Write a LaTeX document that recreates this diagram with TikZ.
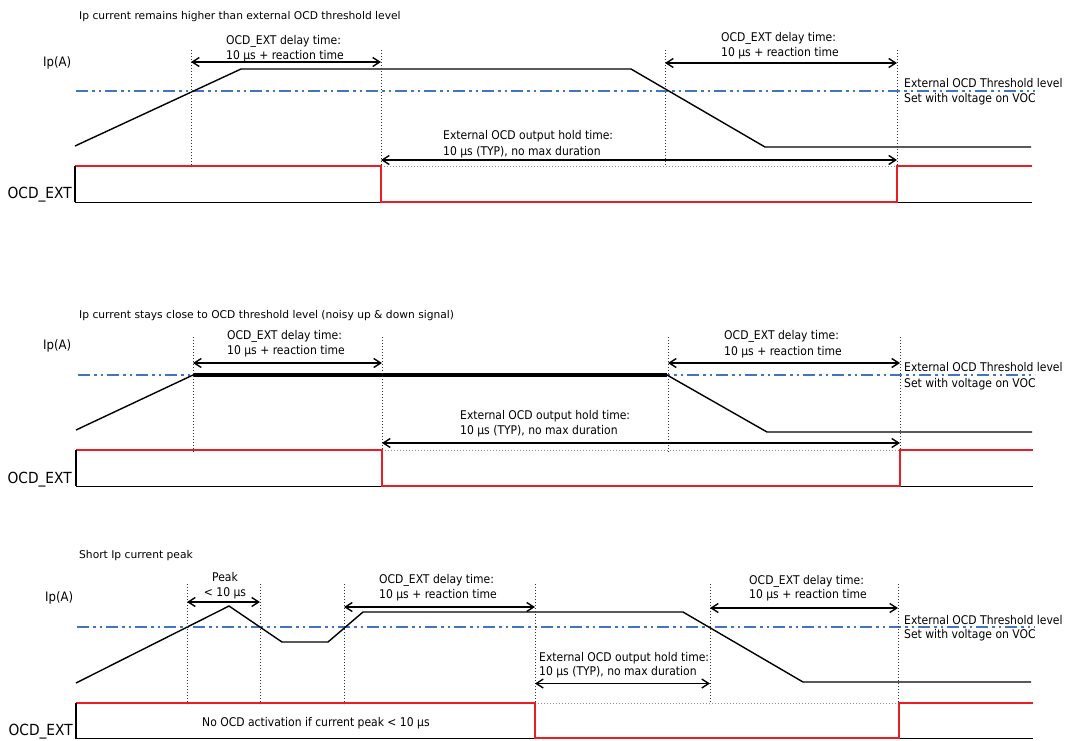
\documentclass[tikz,border=0pt]{standalone}
\usepackage{fontspec}
\setmainfont{DejaVu Sans}[FakeStretch=0.9]
\newfontfamily\titlefont{DejaVu Sans}
\usetikzlibrary{arrows.meta}
\definecolor{sigred}{RGB}{237,28,36}
\definecolor{thrblue}{RGB}{68,114,196}
\definecolor{guidegray}{RGB}{50,50,50}
\definecolor{holdgray}{RGB}{140,140,140}
\begin{document}
\begin{tikzpicture}[x=1pt,y=-1pt,
  lbl/.style={inner sep=0pt, anchor=base west, font=\fontsize{12}{15}\selectfont},
  clbl/.style={inner sep=0pt, anchor=base, font=\fontsize{12}{15}\selectfont},
  ttl/.style={inner sep=0pt, anchor=base west, font=\titlefont\fontsize{10.7}{13}\selectfont},
  siglbl/.style={inner sep=0pt, anchor=base east, font=\fontsize{15.3}{18}\selectfont},
  ipl/.style={inner sep=0pt, anchor=base west, font=\fontsize{13}{15}\selectfont},
  ipcurve/.style={line width=1.4pt, line join=miter},
  heavyline/.style={line width=4pt},
  thrline/.style={thrblue, line width=1.5pt, dash pattern=on 12pt off 4pt on 2.5pt off 4pt on 2.5pt off 4pt},
  guideline/.style={guidegray, line width=1pt, dash pattern=on 1.3pt off 1.7pt},
  holdline/.style={holdgray, line width=0.9pt, dash pattern=on 1.3pt off 1.7pt},
  spanarrow/.style={line width=1.4pt, {Straight Barb[length=7pt,width=9pt]}-{Straight Barb[length=7pt,width=9pt]}},
  redsig/.style={sigred, line width=2.2pt},
  baseln/.style={black, line width=1pt},
  leftedge/.style={black, line width=1.4pt}
]
\fill[white] (0,0) rectangle (1067,740);
\useasboundingbox (0,0) rectangle (1067,740);

% ================= TOP PANEL =================
\node[ttl] (t1) at (79,19) {Ip current remains higher than external OCD threshold level};
\node[ipl] (ip1) at (43,66.5) {Ip(A)};
\node[lbl] (d1a) at (226,44) {OCD\_EXT delay time:};
\node[lbl] (d1b) at (226,59) {10 µs + reaction time};
\node[lbl] (d2a) at (721,41) {OCD\_EXT delay time:};
\node[lbl] (d2b) at (721,56) {10 µs + reaction time};
\node[lbl] (th1a) at (904,87) {External OCD Threshold level};
\node[lbl] (th1b) at (904,102) {Set with voltage on VOC};
\node[lbl] (h1a) at (443,139) {External OCD output hold time:};
\node[lbl] (h1b) at (443,155) {10 µs (TYP), no max duration};
\node[siglbl] (s1) at (72,198.5) {OCD\_EXT};

\draw[thrline] (76,91) -- (1035,91);
\draw[ipcurve] (75,146) -- (241,69) -- (631,69) -- (765,147) -- (1031,147);
\foreach \gx in {191,381,665,897} \draw[guideline] (\gx,50) -- (\gx,167);
\coordinate (a1l) at (191,62); \coordinate (a1r) at (381,62);
\coordinate (a2l) at (665,63); \coordinate (a2r) at (897,63);
\coordinate (a3l) at (381,160); \coordinate (a3r) at (897,160);
\draw[spanarrow] (a1l) -- (a1r);
\draw[spanarrow] (a2l) -- (a2r);
\draw[spanarrow] (a3l) -- (a3r);
\draw[holdline] (381,166) -- (897,166);
\draw[baseln] (75,202) -- (1032,202);
\draw[redsig] (75,166) -- (381,166) -- (381,202) -- (897,202) -- (897,166) -- (1032,166);
\draw[leftedge] (75,166) -- (75,202);

% ================= MIDDLE PANEL =================
\node[ttl] (t2) at (79,318.5) {Ip current stays close to OCD threshold level (noisy up \& down signal)};
\node[ipl] (ip2) at (43,349.5) {Ip(A)};
\node[lbl] (e1a) at (227,339) {OCD\_EXT delay time:};
\node[lbl] (e1b) at (227,354) {10 µs + reaction time};
\node[lbl] (e2a) at (724,339) {OCD\_EXT delay time:};
\node[lbl] (e2b) at (724,355) {10 µs + reaction time};
\node[lbl] (th2a) at (904,371) {External OCD Threshold level};
\node[lbl] (th2b) at (904,387) {Set with voltage on VOC};
\node[lbl] (h2a) at (460,419) {External OCD output hold time:};
\node[lbl] (h2b) at (460,434) {10 µs (TYP), no max duration};
\node[siglbl] (s2) at (72,483) {OCD\_EXT};

\draw[thrline] (78,375) -- (1035,375);
\draw[ipcurve] (76,430) -- (193,375);
\draw[heavyline] (193,375) -- (667,375);
\draw[ipcurve] (667,375) -- (767,432) -- (1032,432);
\foreach \gx in {193,382,668,900} \draw[guideline] (\gx,337) -- (\gx,452);
\coordinate (b1l) at (193,363); \coordinate (b1r) at (382,363);
\coordinate (b2l) at (668,363); \coordinate (b2r) at (900,363);
\coordinate (b3l) at (382,443); \coordinate (b3r) at (900,443);
\draw[spanarrow] (b1l) -- (b1r);
\draw[spanarrow] (b2l) -- (b2r);
\draw[spanarrow] (b3l) -- (b3r);
\draw[holdline] (382,450) -- (900,450);
\draw[baseln] (76,486) -- (1033,486);
\draw[redsig] (76,450) -- (382,450) -- (382,486) -- (900,486) -- (900,450) -- (1033,450);
\draw[leftedge] (76,450) -- (76,486);

% ================= BOTTOM PANEL =================
\node[ttl] (t3) at (79,558.5) {Short Ip current peak};
\node[ipl] (ip3) at (45,601.5) {Ip(A)};
\node[clbl] (pk1) at (225,581) {Peak};
\node[clbl] (pk2) at (225,596) {< 10 µs};
\node[lbl] (f1a) at (379,583) {OCD\_EXT delay time:};
\node[lbl] (f1b) at (379,598) {10 µs + reaction time};
\node[lbl] (f2a) at (749,584) {OCD\_EXT delay time:};
\node[lbl] (f2b) at (749,598) {10 µs + reaction time};
\node[lbl] (th3a) at (904,624) {External OCD Threshold level};
\node[lbl] (th3b) at (904,638) {Set with voltage on VOC};
\node[lbl] (h3a) at (539,661) {External OCD output hold time:};
\node[lbl] (h3b) at (539,675.5) {10 µs (TYP), no max duration};
\node[lbl] (noact) at (202,726) {No OCD activation if current peak < 10 µs};
\node[siglbl] (s3) at (73,735) {OCD\_EXT};

\draw[thrline] (77,627) -- (1035,627);
\draw[ipcurve] (76,683) -- (229,606) -- (282,642) -- (328,642) -- (363,612) -- (683,612) -- (803,682) -- (1031,682);
\foreach \gx in {187,260,344,535,710,898} \draw[guideline] (\gx,584) -- (\gx,704);
\coordinate (c1l) at (187,602); \coordinate (c1r) at (260,602);
\coordinate (c2l) at (344,607); \coordinate (c2r) at (535,607);
\coordinate (c3l) at (710,608); \coordinate (c3r) at (898,608);
\coordinate (c4l) at (535,683.5); \coordinate (c4r) at (710,683.5);
\draw[spanarrow] (c1l) -- (c1r);
\draw[spanarrow] (c2l) -- (c2r);
\draw[spanarrow] (c3l) -- (c3r);
\draw[spanarrow] (c4l) -- (c4r);
\draw[holdline] (535,703) -- (898,703);
\draw[baseln] (76,738.5) -- (1033,738.5);
\draw[redsig] (76,703) -- (535,703) -- (535,738) -- (899,738) -- (899,703) -- (1033,703);
\draw[leftedge] (76,703) -- (76,738.5);
\end{tikzpicture}
\end{document}
